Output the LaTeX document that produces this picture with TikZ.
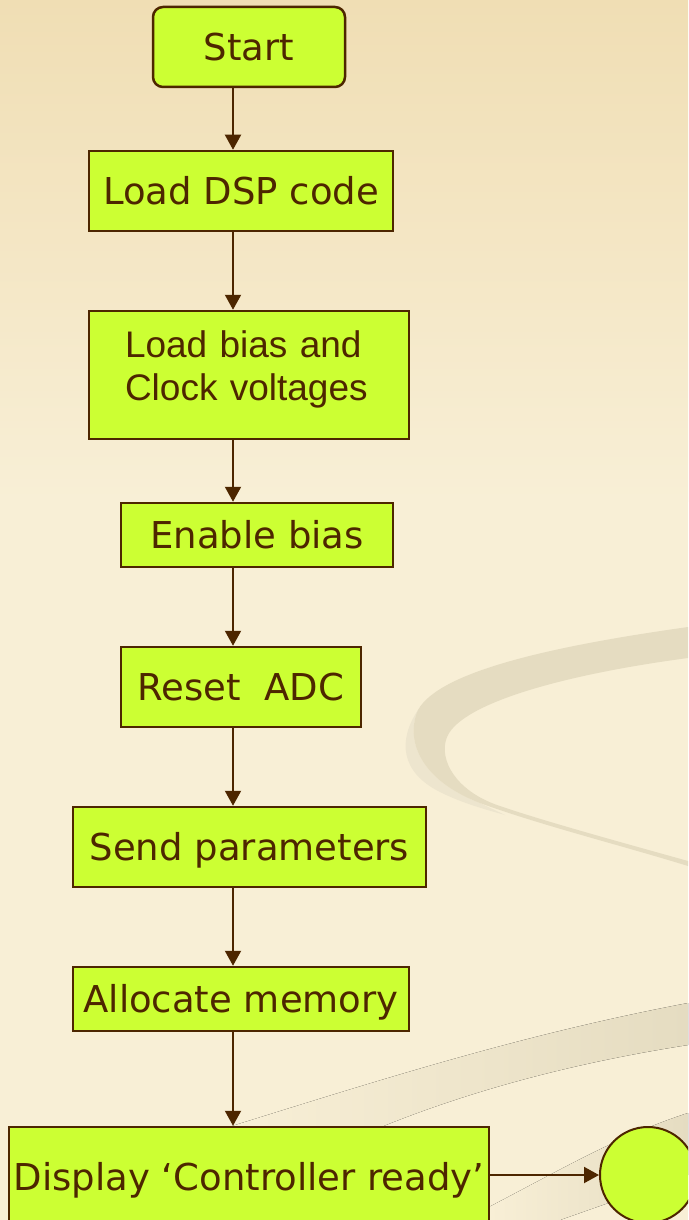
\documentclass[tikz,border=0pt]{standalone}
\usepackage{fontspec}
\setmainfont{DejaVu Sans}
\newfontfamily\arialfont{Liberation Sans}
\usetikzlibrary{arrows.meta}

\definecolor{ink}{RGB}{77,38,0}
\definecolor{boxfill}{RGB}{204,255,51}
\definecolor{bgtop}{RGB}{240,222,180}
\definecolor{bgmid}{RGB}{248,239,214}
\definecolor{swoosh}{RGB}{229,220,193}
\definecolor{swooshlight}{RGB}{237,229,206}

\begin{document}
\begin{tikzpicture}[x=1pt,y=-1pt,
  stepbox/.style={draw=ink, line width=2.5pt, fill=boxfill, text=ink,
    rectangle, inner sep=0pt, font=\fontsize{37}{43}\selectfont,
    text height=27pt, text depth=0pt},
  flow/.style={draw=ink, line width=2pt, -{Triangle[width=16pt,length=15pt]}}
]
\useasboundingbox (0,0) rectangle (688,1220);
\clip (0,0) rectangle (688,1220);

% background: warm gradient
\fill[top color=bgtop, bottom color=bgmid] (0,0) rectangle (688,501);
\fill[bgmid] (0,500) rectangle (688,1220);

% decorative swoosh, upper right: faint outer crescent, then the main band
\fill[swooshlight] (418,710) .. controls (398,740) and (400,772) .. (440,792)
  .. controls (460,802) and (480,808) .. (505,815)
  -- (480,803) .. controls (420,780) and (405,740) .. (418,710) -- cycle;
\fill[swoosh] (688,627) .. controls (560,645) and (440,670) .. (418,710)
  .. controls (405,740) and (420,780) .. (480,803)
  .. controls (540,825) and (620,845) .. (688,866)
  -- (688,861) .. controls (620,842) and (540,820) .. (497,805)
  .. controls (455,790) and (440,760) .. (446,740)
  .. controls (455,705) and (560,675) .. (688,658) -- cycle;

% decorative swoosh, lower right
\fill[left color=bgmid, right color=swoosh]
  (232,1126) .. controls (380,1080) and (520,1035) .. (688,1003)
  -- (688,1045) .. controls (560,1065) and (460,1095) .. (381,1127) -- cycle;
\fill[left color=bgmid, right color=swoosh]
  (489,1207) .. controls (560,1170) and (620,1135) .. (688,1113)
  -- (688,1175) -- (560,1220) -- (489,1220) -- cycle;

% flow steps
\node[stepbox, rounded corners=10pt, minimum width=192pt, minimum height=80pt]
  (start) at (249,47) {Start};
\node[stepbox, minimum width=304pt, minimum height=80pt]
  (dsp) at (241,191) {Load DSP code};
\node[stepbox, minimum width=320pt, minimum height=128pt,
  font=\arialfont\fontsize{37}{43}\selectfont, align=left, text width=248pt,
  text height=27pt, text depth=63pt]
  (bias) at (249,375) {Load bias and\\Clock voltages};
\node[stepbox, minimum width=272pt, minimum height=64pt]
  (enable) at (257,535) {Enable bias\ };
\node[stepbox, minimum width=240pt, minimum height=80pt]
  (reset) at (241,687) {Reset\ \ ADC};
\node[stepbox, minimum width=353pt, minimum height=80pt]
  (send) at (249.5,847) {Send parameters};
\node[stepbox, minimum width=336pt, minimum height=64pt]
  (alloc) at (241,999) {Allocate memory\hspace{9pt}};
\node[stepbox, minimum width=480pt, minimum height=100pt]
  (display) at (249,1177) {Display ‘Controller ready’};
\node[draw=ink, line width=2pt, fill=boxfill, circle, minimum size=96pt,
  inner sep=0pt] (finish) at (648,1175) {};

% connectors along a common vertical line
\coordinate (spine) at (233,0);
\draw[flow] (start.south -| spine) -- (dsp.north -| spine);
\draw[flow] (dsp.south -| spine) -- (bias.north -| spine);
\draw[flow] (bias.south -| spine) -- (enable.north -| spine);
\draw[flow] (enable.south -| spine) -- (reset.north -| spine);
\draw[flow] (reset.south -| spine) -- (send.north -| spine);
\draw[flow] (send.south -| spine) -- (alloc.north -| spine);
\draw[flow] (alloc.south -| spine) -- (display.north -| spine);
\draw[flow] (finish.west -| display.east) -- (finish.west);
\end{tikzpicture}
\end{document}
